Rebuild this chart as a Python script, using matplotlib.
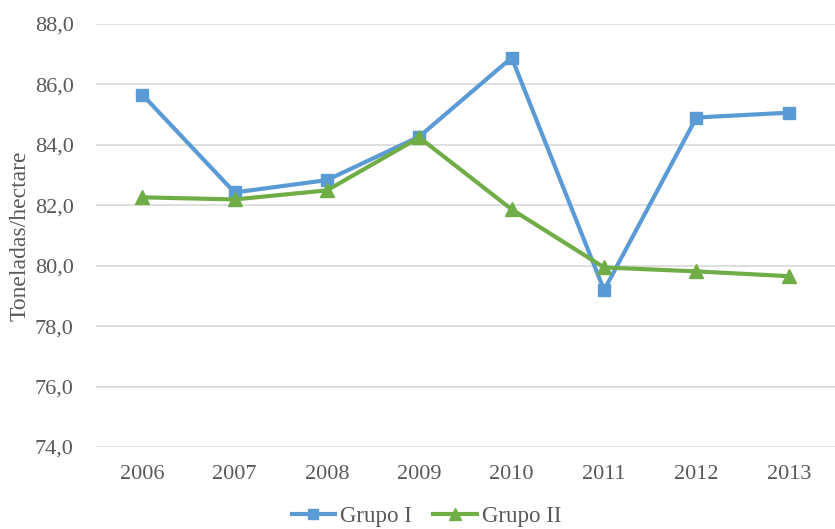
import matplotlib
matplotlib.use("Agg")
import matplotlib.pyplot as plt
from matplotlib.ticker import FuncFormatter

years = ["2006", "2007", "2008", "2009", "2010", "2011", "2012", "2013"]
grupo_i = [85.66, 82.42, 82.83, 84.27, 86.88, 79.19, 84.90, 85.06]
grupo_ii = [82.26, 82.19, 82.49, 84.24, 81.86, 79.94, 79.81, 79.65]

plt.rcParams['font.family'] = ['Liberation Serif', 'DejaVu Serif']

fig = plt.figure(figsize=(8.35, 5.29), dpi=100)
ax = fig.add_axes([0.115, 0.155, 0.885, 0.80])

x = range(len(years))
ax.plot(x, grupo_i, color='#5B9BD5', lw=3, marker='s', ms=9, label='Grupo I', zorder=3)
ax.plot(x, grupo_ii, color='#70AD47', lw=3, marker='^', ms=10, label='Grupo II', zorder=3)

ax.set_ylim(74, 88)
ax.set_yticks([74, 76, 78, 80, 82, 84, 86, 88])
ax.yaxis.set_major_formatter(FuncFormatter(lambda v, p: f"{v:.1f}".replace('.', ',')))
ax.set_xlim(-0.5, len(years) - 0.5)
ax.set_xticks(list(x))
ax.set_xticklabels(years)

ax.grid(axis='y', color='#D9D9D9', lw=1.2)
ax.set_axisbelow(True)
for s in ax.spines.values():
    s.set_visible(False)
ax.tick_params(axis='both', length=0, labelsize=16, colors='#595959')
ax.tick_params(axis='y', pad=16)
ax.tick_params(axis='x', pad=13)

ax.set_ylabel('Toneladas/hectare', fontsize=17, color='#595959', labelpad=3)

leg = ax.legend(loc='upper center', bbox_to_anchor=(0.447, -0.09), ncol=2, frameon=False,
                fontsize=16.5, labelcolor='#595959', handlelength=1.9, columnspacing=0.95,
                handletextpad=0.2, markerscale=0.85)

fig.savefig('out.png', dpi=100)
